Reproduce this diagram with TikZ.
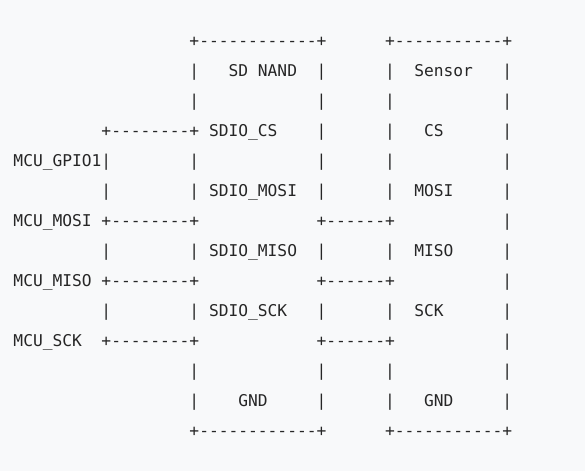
\documentclass[tikz,border=0pt]{standalone}
\usepackage{fontspec}
\setmonofont{DejaVu Sans Mono}
\definecolor{ASCIIink}{HTML}{262626}
\definecolor{ASCIIpaper}{HTML}{F8F9FA}
\usetikzlibrary{positioning}
% one line of the sketch, every space kept
\newcommand\asciiline{\begingroup\obeyspaces\asciilineaux}
\newcommand\asciilineaux[1]{#1\endgroup}
\tikzset{
  sketchrow/.style={anchor=base west, inner sep=0pt, outer sep=0pt,
    text=ASCIIink, font=\ttfamily\fontsize{12.18}{14}\selectfont}
}

\begin{document}
\begin{tikzpicture}[x=0.75pt, y=-0.75pt]
            % Paper
            \fill[ASCIIpaper] (0,0) rectangle (585,471);
            \useasboundingbox (0,0) rectangle (585,471);
            % Box tops and titles
            \node[sketchrow] (tops) at (13.5,46.7) {\asciiline{                  +------------+      +-----------+}};
            \node[sketchrow] (titles) at (13.5,76.7) {\asciiline{                  |   SD NAND  |      |  Sensor   |}};
            \node[sketchrow] (gapa) at (13.5,106.7) {\asciiline{                  |            |      |           |}};
            % Chip select
            \node[sketchrow] (cs) at (13.5,136.7) {\asciiline{         +--------+ SDIO\_CS    |      |   CS      |}};
            \node[sketchrow] (gpio) at (13.5,166.7) {\asciiline{MCU\_GPIO1|        |            |      |           |}};
            % MOSI
            \node[sketchrow] (mosi) at (13.5,196.7) {\asciiline{         |        | SDIO\_MOSI  |      |  MOSI     |}};
            \node[sketchrow] (mosiwire) at (13.5,226.7) {\asciiline{MCU\_MOSI +--------+            +------+           |}};
            % MISO
            \node[sketchrow] (miso) at (13.5,256.7) {\asciiline{         |        | SDIO\_MISO  |      |  MISO     |}};
            \node[sketchrow] (misowire) at (13.5,286.7) {\asciiline{MCU\_MISO +--------+            +------+           |}};
            % SCK
            \node[sketchrow] (sck) at (13.5,316.7) {\asciiline{         |        | SDIO\_SCK   |      |  SCK      |}};
            \node[sketchrow] (sckwire) at (13.5,346.7) {\asciiline{MCU\_SCK  +--------+            +------+           |}};
            % Ground and box bottoms
            \node[sketchrow] (gapb) at (13.5,376.7) {\asciiline{                  |            |      |           |}};
            \node[sketchrow] (gnd) at (13.5,406.7) {\asciiline{                  |    GND     |      |   GND     |}};
            \node[sketchrow] (bottoms) at (13.5,436.7) {\asciiline{                  +------------+      +-----------+}};
\end{tikzpicture}
\end{document}
